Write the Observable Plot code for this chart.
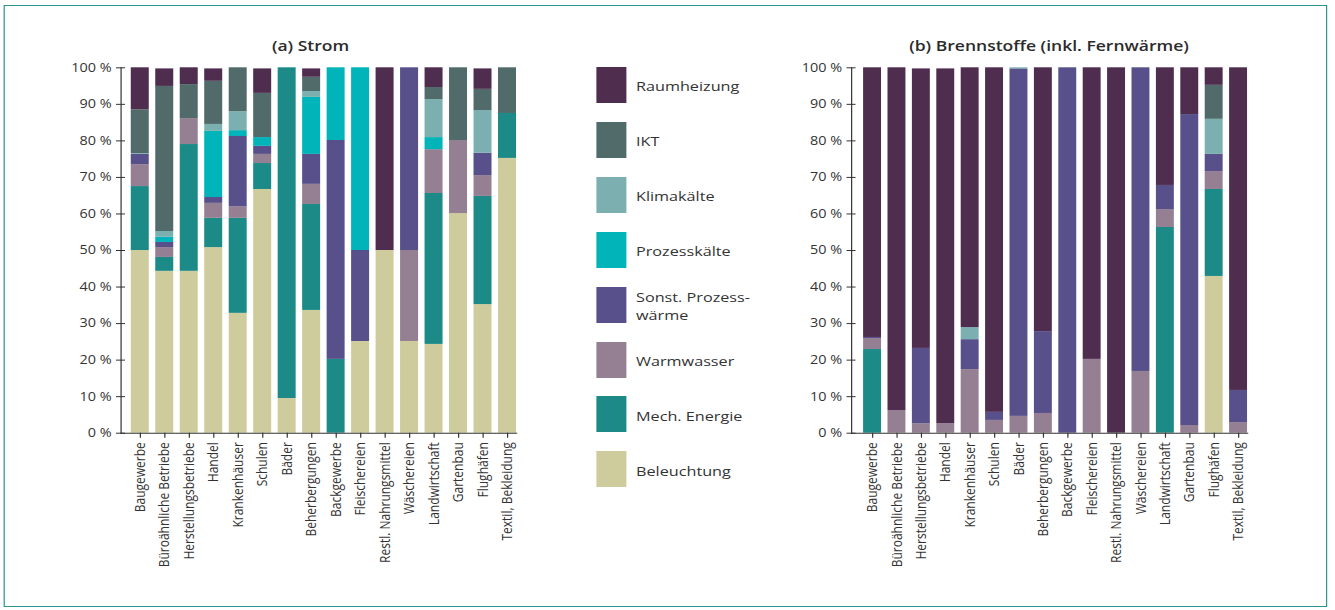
<!DOCTYPE html>
<html><head><meta charset="utf-8">
<script src="https://cdn.jsdelivr.net/npm/d3@7"></script>
<script src="https://cdn.jsdelivr.net/npm/@observablehq/plot@0.6"></script>
<style>
body{margin:0;background:#fff;overflow:hidden;}
#stage{position:relative;width:1112.5px;height:610px;transform:scaleX(1.2);transform-origin:0 0;font-family:"Open Sans",sans-serif;color:#333;}
#border{position:absolute;left:2.75px;top:5px;width:1103px;height:602px;border:1px solid #2a968f;box-sizing:border-box;}
.title{position:absolute;width:400px;text-align:center;font-size:14.6px;font-weight:600;line-height:20px;color:#2b2b2b;white-space:nowrap;}
.sw{position:absolute;width:25.8px;height:36px;}
.lt{position:absolute;font-size:13.5px;line-height:17.6px;color:#333;white-space:nowrap;}
.plot{position:absolute;top:0;}
</style>
</head><body>
<div id="stage">
  <div id="border"></div>
  <div class="title" style="left:58.8px;top:34.5px;">(a) Strom</div>
  <div class="title" style="left:674.2px;top:35px;">(b) Brennstoffe (inkl. Fernwärme)</div>
  <div id="left" class="plot" style="left:0px;"></div>
  <div id="right" class="plot" style="left:600px;"></div>
  <div id="legend"></div>
</div>
<script>
const categories = ["Baugewerbe","Büroähnliche Betriebe","Herstellungsbetriebe","Handel","Krankenhäuser","Schulen","Bäder","Beherbergungen","Backgewerbe","Fleischereien","Restl. Nahrungsmittel","Wäschereien","Landwirtschaft","Gartenbau","Flughäfen","Textil, Bekleidung"];
const uses = ["Beleuchtung","Mech. Energie","Warmwasser","Sonst. Prozesswärme","Prozesskälte","Klimakälte","IKT","Raumheizung"];
const colors = ["#cecb9c","#1c8a87","#957f93","#57508b","#00b4b9","#7cb0b0","#506b69","#4f2d4f"];
const legendLabels = ["Raumheizung","IKT","Klimakälte","Prozesskälte","Sonst. Prozess-\nwärme","Warmwasser","Mech. Energie","Beleuchtung"];
const legendColors = ["#4f2d4f","#506b69","#7cb0b0","#00b4b9","#57508b","#957f93","#1c8a87","#cecb9c"];
const yTicks = [0,10,20,30,40,50,60,70,80,90,100];

// (a) Strom, share in %
const stromBeleuchtung = [50,44.3,44.3,50.8,32.8,66.7,9.5,33.6,0,25.1,50,25.1,24.3,60.1,35.2,75.2];
const stromMech        = [17.5,3.8,34.7,8.0,26.0,7.1,90.5,29.0,20.2,0,0,0,41.3,0,29.6,12.3];
const stromWarmwasser  = [6.0,2.7,7.1,4.1,3.2,2.5,0,5.5,0,0,0,24.9,12.0,20.0,5.7,0];
const stromSonstPW     = [2.8,1.4,0,1.6,19.2,2.2,0,8.2,59.9,24.9,0,50,0,0,6.1,0];
const stromProzessk    = [0,1.4,0,18.1,1.6,2.4,0,15.6,19.9,50,0,0,3.3,0,0,0];
const stromKlimak      = [0.2,1.6,0,1.9,5.2,0,0,1.6,0,0,0,0,10.4,0,11.7,0];
const stromIKT         = [12.0,39.7,9.3,11.8,12.0,12.1,0,3.9,0,0,0,0,3.3,19.9,5.8,12.5];
const stromRaum        = [11.5,4.8,4.6,3.4,0,6.7,0,2.3,0,0,50,0,5.4,0,5.6,0];

// (b) Brennstoffe (inkl. Fernwärme), share in %
const brennBeleuchtung = [0,0,0,0,0,0,0,0,0,0,0,0,0,0,42.9,0];
const brennMech        = [22.9,0,0,0,0,0,0,0,0,0,0,0,56.3,0,23.8,0];
const brennWarmwasser  = [3.0,6.2,2.6,2.6,17.4,3.5,4.6,5.4,0,20.2,0,16.9,4.9,2.1,4.9,2.9];
const brennSonstPW     = [0.3,0,20.6,0,8.2,2.2,95.1,22.4,100,0,0,83.1,6.6,85.1,4.7,8.8];
const brennProzessk    = [0,0,0,0,0,0,0,0,0,0,0,0,0,0,0,0];
const brennKlimak      = [0,0,0,0,3.3,0,0.3,0,0,0,0,0,0,0,9.6,0];
const brennIKT         = [0,0,0,0,0,0,0,0,0,0,0,0,0,0,9.3,0];
const brennRaum        = [73.8,93.8,76.5,97.1,71.1,94.3,0,72.2,0,79.8,100,0,32.2,12.8,4.8,88.3];

function rows(series){
  const out = [];
  categories.forEach((c,j)=>uses.forEach((u,i)=>out.push({cat:c,use:u,value:series[i][j]})));
  return out;
}
const stromData = rows([stromBeleuchtung,stromMech,stromWarmwasser,stromSonstPW,stromProzessk,stromKlimak,stromIKT,stromRaum]);
const brennData = rows([brennBeleuchtung,brennMech,brennWarmwasser,brennSonstPW,brennProzessk,brennKlimak,brennIKT,brennRaum]);

function chart(data, ml, mr, po){
  return Plot.plot({
    width: 500, height: 610,
    marginTop: 67.3, marginBottom: 177.3, marginLeft: ml, marginRight: mr,
    style: {fontFamily: "Open Sans, sans-serif", fontSize: "12px", color: "#333", background: "transparent", overflow: "visible"},
    x: {domain: categories, paddingInner: 0.265, paddingOuter: po, align: 1, round: false, label: null},
    y: {domain: [0,100], label: null},
    color: {domain: uses, range: colors},
    marks: [
      Plot.barY(data, {x: "cat", y: "value", fill: "use"}),
      Plot.frame({anchor: "left", stroke: "#333"}),
      Plot.frame({anchor: "bottom", stroke: "#333"}),
      Plot.axisX({tickRotate: -90, tickSize: 5, tickPadding: 4, label: null, stroke: "#333", fill: "#333"}),
      Plot.axisY({ticks: yTicks, tickSize: 7.5, dx: 3.75, text: null, label: null, stroke: "#333"}),
      Plot.axisY({ticks: yTicks, tickSize: 0, tickPadding: 7.9, tickFormat: d => d + " %", label: null, fill: "#333"})
    ]
  });
}
document.getElementById("left").appendChild(chart(stromData, 100.4, 70, 0.21));
document.getElementById("right").appendChild(chart(brennData, 109.2, 60.8, 0.247));

const legendTops = legendLabels.map((_, i) => 67 + i * 54.9);
const lg = document.getElementById("legend");
legendLabels.forEach((lab, i) => {
  const top = legendTops[i];
  const s = document.createElement("div");
  s.className = "sw"; s.style.left = "496.7px"; s.style.top = top + "px"; s.style.background = legendColors[i];
  lg.appendChild(s);
  const t = document.createElement("div");
  t.className = "lt";
  const lines = lab.split("\n");
  lines.forEach((ln, k) => { if (k) t.appendChild(document.createElement("br")); t.appendChild(document.createTextNode(ln)); });
  t.style.left = "530px";
  t.style.top = (top + 20 - lines.length * 8.8) + "px";
  lg.appendChild(t);
});
</script>
</body></html>
